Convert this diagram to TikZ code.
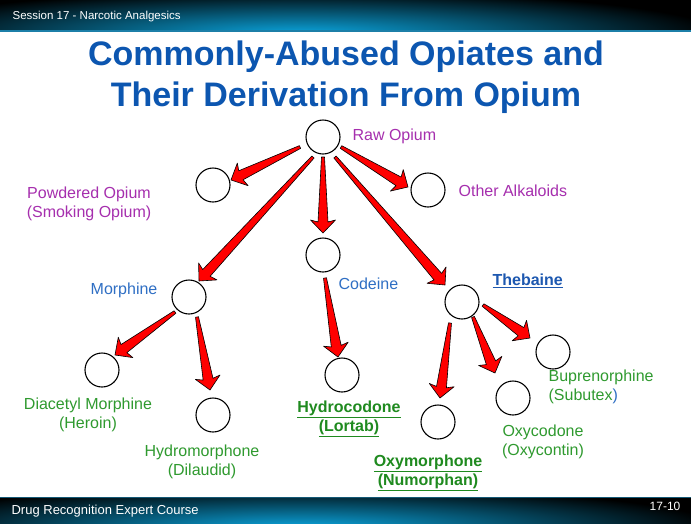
\documentclass[tikz,border=0pt]{standalone}
\usepackage{fontspec}
\setmainfont{Liberation Sans}
\usetikzlibrary{calc}
\definecolor{ctitle}{HTML}{0C56B0}
\definecolor{cpurple}{HTML}{A62FAE}
\definecolor{cblue}{HTML}{2F6FC4}
\definecolor{cdblue}{HTML}{1D58B0}
\definecolor{cgreen}{HTML}{2F9A2F}
\definecolor{cdgreen}{HTML}{1F8A1F}
\definecolor{cglow}{HTML}{0BA6DF}
\definecolor{cbar}{HTML}{1C7FA8}
\tikzset{
  every picture/.style={line width=1.2pt},
  compound/.style={circle, draw=black, fill=white, minimum size=34pt, inner sep=0pt, line width=1.1pt},
  taper/.style={fill=red, draw=black, line width=0.6pt, line join=round},
  lbl/.style={font=\fontsize{16}{19.5}\selectfont, inner sep=0pt, align=center},
  strong/.style={font=\fontsize{16}{19.5}\selectfont\bfseries, inner sep=0pt, align=center},
  title/.style={font=\fontsize{34}{40}\selectfont\bfseries, text=ctitle, inner sep=0pt},
  bar/.style={font=\fontsize{11.5}{13}\selectfont, text=white, inner sep=0pt},
}
\newcommand{\tapered}[2]{%
  \path #1 coordinate (t0) #2 coordinate (t1);
  \path ($(t1)!11pt!(t0)$) coordinate (tm) ($(t1)!13pt!(t0)$) coordinate (tn);
  \filldraw[taper] ($(t0)!1.5pt!90:(t1)$) -- ($(tm)!5pt!90:(t1)$) -- ($(tn)!12.5pt!90:(t1)$) -- (t1)
    -- ($(tn)!12.5pt!-90:(t1)$) -- ($(tm)!5pt!-90:(t1)$) -- ($(t0)!1.5pt!-90:(t1)$) -- cycle;
}

\begin{document}
\begin{tikzpicture}[x=1pt, y=-1pt]
  \useasboundingbox (0,0) rectangle (691,523);
  \fill[white] (0,0) rectangle (691,523);
  % header and footer bars
  \fill[black] (0,0) rectangle (691,31);
  \begin{scope}
    \clip (0,0) rectangle (691,31);
    \shade[inner color=cglow, outer color=black] (300,34) ellipse [x radius=420, y radius=44];
  \end{scope}
  \draw[cbar, line width=1.5pt] (0,31) -- (691,31);
  \fill[black] (0,497) rectangle (691,523);
  \begin{scope}
    \clip (0,497) rectangle (691,523);
    \shade[inner color=cglow, outer color=black] (300,528) ellipse [x radius=420, y radius=42];
  \end{scope}
  \draw[cbar!70!black, line width=1pt] (0,497) -- (691,497);
  \node[bar, anchor=west] (sess) at (12,17) {Session 17 - Narcotic Analgesics};
  \node[bar, anchor=west, font=\fontsize{13}{15}\selectfont] (course) at (11,511) {Drug Recognition Expert Course};
  \node[bar, anchor=east, font=\fontsize{12}{14}\selectfont] (page) at (681,506) {17-10};

  \node[title, anchor=base] (head1) at (346,65) {Commonly-Abused Opiates and};
  \node[title, anchor=base] (head2) at (346,106) {Their Derivation From Opium};

  \foreach \n/\x/\y in {raw/323/137, pow/213/185, oth/428/190, cod/323/255, mor/189/297, the/462/302,
      dia/102/370, hdm/213/415, hdc/342/375, oxm/438/422, oxc/513/398, bup/553/352}
    \node[compound] (\n) at (\x,\y) {};

  \foreach \a/\ax/\ay/\b/\bx/\by in {raw/-23/10/pow/18/-5, raw/18/10/oth/-20/-3, raw/0/20/cod/0/-22,
      raw/-10/20/mor/10/-16, raw/12/20/the/-17/-17, cod/2/23/hdc/-4/-18, mor/-14/15/dia/13/-15,
      mor/8/20/hdm/-3/-25, the/-12/21/oxm/2/-24, the/11/15/oxc/-18/-25, the/21/3/bup/-23/-14}
    \tapered{($(\a)+(\ax,\ay)$)}{($(\b)+(\bx,\by)$)};

  \node[lbl, text=cpurple, anchor=west] (rawl) at (352,136) {Raw Opium};
  \node[lbl, text=cpurple] (powl) at (89,204) {Powdered Opium\\(Smoking Opium)};
  \node[lbl, text=cpurple, anchor=west] (othl) at (458,191) {Other Alkaloids};
  \node[lbl, text=cblue, anchor=east] (morl) at (158,290) {Morphine};
  \node[lbl, text=cblue, anchor=west] (codl) at (338,284) {Codeine};
  \node[strong, text=cdblue, anchor=west] (thel) at (492,281) {\underline{Thebaine}};
  \node[lbl, text=cgreen] (dial) at (88,415) {Diacetyl Morphine\\(Heroin)};
  \node[lbl, text=cgreen] (hdml) at (202,462) {Hydromorphone\\(Dilaudid)};
  \node[strong, text=cdgreen] (hdcl) at (349,419) {\underline{Hydrocodone}\\\underline{(Lortab)}};
  \node[strong, text=cdgreen] (oxml) at (428,473) {\underline{Oxymorphone}\\\underline{(Numorphan)}};
  \node[lbl, text=cgreen] (oxcl) at (543,442) {Oxycodone\\(Oxycontin)};
  \node[lbl, text=cgreen, anchor=west, align=left] (bupl) at (548,387) {Buprenorphine\\(Subutex\textcolor{cblue}{)}};
\end{tikzpicture}
\end{document}
